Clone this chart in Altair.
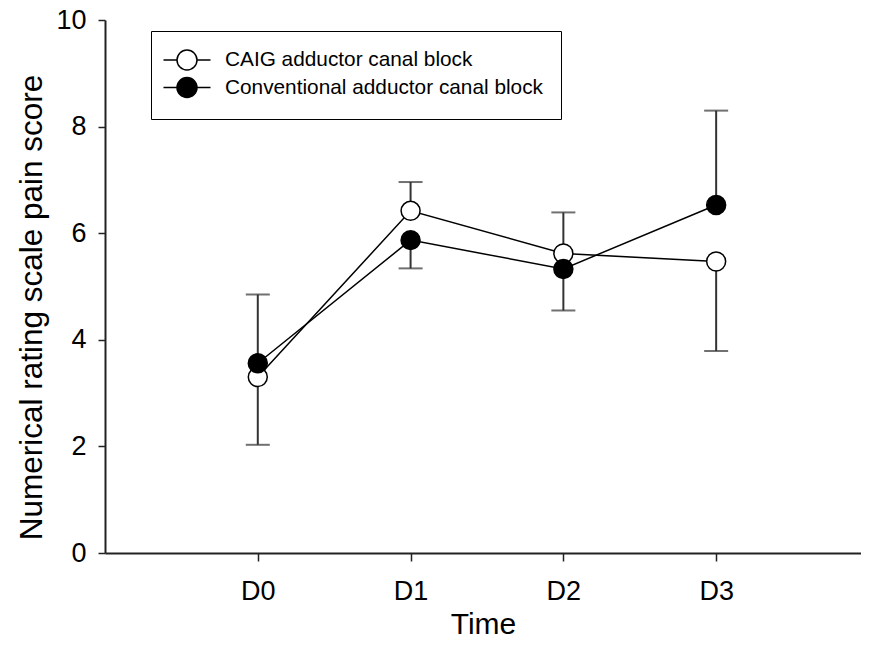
import json
import altair as alt
import pandas as pd

# ---- data ----
time_labels = ["D0", "D1", "D2", "D3"]
time_index = [0, 1, 2, 3]
series_names = ["CAIG adductor canal block", "Conventional adductor canal block"]

caig_mean = [3.30, 6.42, 5.62, 5.47]
caig_err_end = [2.03, 6.96, 6.39, 3.79]      # one-sided error bar end
conv_mean = [3.56, 5.87, 5.33, 6.53]
conv_err_end = [4.85, 5.34, 4.55, 8.30]

y_ticks = [0, 2, 4, 6, 8, 10]

rows = []
for k, (name, means, ends) in enumerate(
    [(series_names[0], caig_mean, caig_err_end), (series_names[1], conv_mean, conv_err_end)]
):
    for t, m, e in zip(time_index, means, ends):
        rows.append({"t": t, "series": name, "order": k, "mean": m, "end": e})
df = pd.DataFrame(rows)

FONT = "Liberation Sans"

x_enc = alt.X(
    "t:Q",
    scale=alt.Scale(domain=[-1, 3.948], nice=False, zero=False),
    axis=alt.Axis(
        values=time_index,
        labelExpr=json.dumps(time_labels) + "[datum.value]",
        title="Time",
        grid=False,
        tickSize=8,
        tickWidth=1.5,
        tickColor="#222",
        domainColor="#222",
        domainWidth=2,
        labelFontSize=27,
        labelPadding=17,
        labelColor="black",
        labelFont=FONT,
        titleFont=FONT,
        titleFontSize=30,
        titleFontWeight="normal",
        titleColor="black",
        titleBaseline="alphabetic",
        titleY=80,
    ),
)

y_axis = alt.Axis(
    values=y_ticks,
    title="Numerical rating scale pain score",
    grid=False,
    tickSize=7,
    tickWidth=1.5,
    tickColor="#222",
    domainColor="#222",
    domainWidth=2,
    labelFontSize=27,
    labelPadding=12,
    labelColor="black",
    labelFont=FONT,
    titleFont=FONT,
    titleFontSize=31.5,
    titleFontWeight="normal",
    titleColor="black",
    titleX=-57,
    titleY=287,
)
y_scale = alt.Scale(domain=[0, 10], nice=False, zero=True)

base = alt.Chart(df)

lines = base.mark_line(color="black", strokeWidth=1.5).encode(
    x=x_enc,
    y=alt.Y("mean:Q", scale=y_scale, axis=y_axis),
    detail="series:N",
)

err = base.mark_rule(color="#333", strokeWidth=2).encode(
    x=x_enc,
    y=alt.Y("mean:Q", scale=y_scale, axis=y_axis),
    y2="end:Q",
)

caps = base.mark_tick(orient="horizontal", size=24, thickness=2, color="#333").encode(
    x=x_enc,
    y=alt.Y("end:Q", scale=y_scale, axis=y_axis),
)

legend_path = "M1,0A1,1,0,1,1,-1,0A1,1,0,1,1,1,0ZM-2.35,0L-1,0M1,0L2.35,0"

points = base.mark_circle(size=360, stroke="black", strokeWidth=1.5, opacity=1).encode(
    x=x_enc,
    y=alt.Y("mean:Q", scale=y_scale, axis=y_axis),
    fill=alt.Fill(
        "series:N",
        scale=alt.Scale(domain=series_names, range=["white", "black"]),
        legend=alt.Legend(
            title=None,
            orient="none",
            legendX=46,
            legendY=11,
            direction="vertical",
            strokeColor="black",
            fillColor="white",
            padding=18,
            rowPadding=1.5,
            symbolType=legend_path,
            symbolSize=400,
            symbolStrokeColor="black",
            symbolStrokeWidth=1.5,
            symbolOffset=7,
            labelOffset=27,
            labelFontSize=20.8,
            labelFont=FONT,
            labelColor="black",
            labelLimit=600,
        ),
    ),
    order=alt.Order("order:Q"),
)

chart = (
    alt.layer(lines, err, caps, points)
    .properties(
        width=756,
        height=533,
        padding={"left": 97, "top": 12, "right": 0, "bottom": 87},
        autosize=alt.AutoSizeParams(type="none"),
        background="white",
    )
    .configure_view(stroke=None)
)

chart.save("out.html", embed_options={"renderer": "svg", "actions": False})
